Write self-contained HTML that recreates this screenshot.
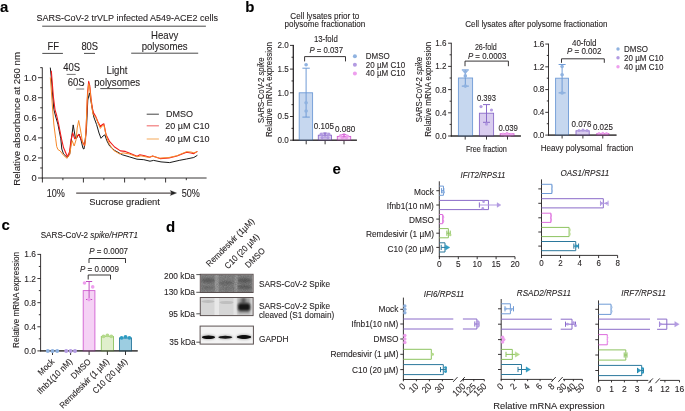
<!DOCTYPE html>
<html><head><meta charset="utf-8"><title>Figure</title>
<style>
html,body{margin:0;padding:0;background:#fff;}
body{width:685px;height:411px;overflow:hidden;}
svg{display:block;font-family:"Liberation Sans",sans-serif;will-change:transform;}
text{stroke:#231f20;stroke-width:0.1px;}
</style></head><body>
<svg width="685" height="411" viewBox="0 0 685 411" fill="#231f20">
<rect width="685" height="411" fill="#fff"/>
<text x="0" y="11.7" font-size="15" font-weight="bold" fill="#000">a</text>
<text x="36.5" y="20.6" font-size="9.74" textLength="181.6" lengthAdjust="spacingAndGlyphs">SARS-CoV-2 trVLP infected A549-ACE2 cells</text>
<line x1="42.2" y1="26.2" x2="205.9" y2="26.2" stroke="#4a4a4a" stroke-width="1"/>
<text x="47.6" y="49.7" font-size="10.06" textLength="11.48" lengthAdjust="spacingAndGlyphs">FF</text>
<line x1="42.3" y1="53.4" x2="62.9" y2="53.4" stroke="#4a4a4a" stroke-width="1"/>
<text x="81.4" y="50" font-size="10.06" textLength="16.73" lengthAdjust="spacingAndGlyphs">80S</text>
<line x1="84" y1="53.4" x2="95" y2="53.4" stroke="#4a4a4a" stroke-width="1"/>
<text x="164.7" y="38.8" font-size="10.27" text-anchor="middle" textLength="27.21" lengthAdjust="spacingAndGlyphs">Heavy</text>
<text x="164.6" y="49.5" font-size="10.27" text-anchor="middle" textLength="45.89" lengthAdjust="spacingAndGlyphs">polysomes</text>
<line x1="131.2" y1="53.2" x2="198.2" y2="53.2" stroke="#4a4a4a" stroke-width="1"/>
<text x="63.2" y="70.9" font-size="10.17" textLength="16.9" lengthAdjust="spacingAndGlyphs">40S</text>
<line x1="66.7" y1="74.4" x2="75.7" y2="74.4" stroke="#777" stroke-width="1"/>
<text x="67.7" y="86.1" font-size="10.17" textLength="16.9" lengthAdjust="spacingAndGlyphs">60S</text>
<line x1="76.2" y1="89" x2="84.2" y2="89" stroke="#777" stroke-width="1"/>
<text x="117" y="74" font-size="10.27" text-anchor="middle" textLength="20.82" lengthAdjust="spacingAndGlyphs">Light</text>
<text x="117.2" y="85.7" font-size="10.27" text-anchor="middle" textLength="45.89" lengthAdjust="spacingAndGlyphs">polysomes</text>
<line x1="100.3" y1="88.6" x2="128.6" y2="88.6" stroke="#4a4a4a" stroke-width="1"/>
<line x1="42.3" y1="67.5" x2="42.3" y2="178.45" stroke="#231f20" stroke-width="0.9"/>
<line x1="41.85" y1="178" x2="206.6" y2="178" stroke="#231f20" stroke-width="0.9"/>
<line x1="38" y1="178" x2="42.3" y2="178" stroke="#231f20" stroke-width="0.9"/>
<text x="36.6" y="181.3" font-size="9.95" text-anchor="end" textLength="5.17" lengthAdjust="spacingAndGlyphs">0</text>
<line x1="38" y1="157.94" x2="42.3" y2="157.94" stroke="#231f20" stroke-width="0.9"/>
<text x="36.6" y="161.24" font-size="9.95" text-anchor="end" textLength="12.93" lengthAdjust="spacingAndGlyphs">0.2</text>
<line x1="38" y1="137.88" x2="42.3" y2="137.88" stroke="#231f20" stroke-width="0.9"/>
<text x="36.6" y="141.18" font-size="9.95" text-anchor="end" textLength="12.93" lengthAdjust="spacingAndGlyphs">0.4</text>
<line x1="38" y1="117.82" x2="42.3" y2="117.82" stroke="#231f20" stroke-width="0.9"/>
<text x="36.6" y="121.12" font-size="9.95" text-anchor="end" textLength="12.93" lengthAdjust="spacingAndGlyphs">0.6</text>
<line x1="38" y1="97.76" x2="42.3" y2="97.76" stroke="#231f20" stroke-width="0.9"/>
<text x="36.6" y="101.06" font-size="9.95" text-anchor="end" textLength="12.93" lengthAdjust="spacingAndGlyphs">0.8</text>
<line x1="38" y1="77.7" x2="42.3" y2="77.7" stroke="#231f20" stroke-width="0.9"/>
<text x="36.6" y="81" font-size="9.95" text-anchor="end" textLength="12.93" lengthAdjust="spacingAndGlyphs">1.0</text>
<line x1="40.2" y1="167.97" x2="42.3" y2="167.97" stroke="#231f20" stroke-width="0.9"/>
<line x1="40.2" y1="147.91" x2="42.3" y2="147.91" stroke="#231f20" stroke-width="0.9"/>
<line x1="40.2" y1="127.85" x2="42.3" y2="127.85" stroke="#231f20" stroke-width="0.9"/>
<line x1="40.2" y1="107.79" x2="42.3" y2="107.79" stroke="#231f20" stroke-width="0.9"/>
<line x1="40.2" y1="87.73" x2="42.3" y2="87.73" stroke="#231f20" stroke-width="0.9"/>
<line x1="40.2" y1="67.67" x2="42.3" y2="67.67" stroke="#231f20" stroke-width="0.9"/>
<line x1="42.4" y1="178" x2="42.4" y2="182.5" stroke="#231f20" stroke-width="0.9"/>
<line x1="83.4" y1="178" x2="83.4" y2="182.5" stroke="#231f20" stroke-width="0.9"/>
<line x1="124.6" y1="178" x2="124.6" y2="182.5" stroke="#231f20" stroke-width="0.9"/>
<line x1="165.6" y1="178" x2="165.6" y2="182.5" stroke="#231f20" stroke-width="0.9"/>
<line x1="62.9" y1="178" x2="62.9" y2="180.2" stroke="#231f20" stroke-width="0.9"/>
<line x1="103.9" y1="178" x2="103.9" y2="180.2" stroke="#231f20" stroke-width="0.9"/>
<line x1="144.9" y1="178" x2="144.9" y2="180.2" stroke="#231f20" stroke-width="0.9"/>
<line x1="186.3" y1="178" x2="186.3" y2="180.2" stroke="#231f20" stroke-width="0.9"/>
<text x="19.6" y="118.9" font-size="9.63" text-anchor="middle" transform="rotate(-90 19.6 118.9)" textLength="133.8" lengthAdjust="spacingAndGlyphs">Relative absorbance at 260 nm</text>
<text x="46.7" y="196.8" font-size="10.06" textLength="18.2" lengthAdjust="spacingAndGlyphs">10%</text>
<line x1="76.2" y1="193.1" x2="172" y2="193.1" stroke="#2a2222" stroke-width="1"/>
<path d="M170.3 190.5 L176.6 193 L170.3 195.5 L171.5 193 Z" stroke="#222" stroke-width="0.3" fill="#222"/>
<text x="181.7" y="197.1" font-size="10.06" textLength="18.1" lengthAdjust="spacingAndGlyphs">50%</text>
<text x="89.2" y="205" font-size="9.63" textLength="70.7" lengthAdjust="spacingAndGlyphs">Sucrose gradient</text>
<line x1="146.7" y1="114.2" x2="158.9" y2="114.2" stroke="#444" stroke-width="1"/>
<line x1="146.7" y1="125.8" x2="158.9" y2="125.8" stroke="#f27a7a" stroke-width="1.2"/>
<line x1="146.7" y1="139" x2="158.9" y2="139" stroke="#f7b776" stroke-width="1.2"/>
<text x="166" y="117" font-size="9.63" textLength="27" lengthAdjust="spacingAndGlyphs">DMSO</text>
<text x="165.3" y="129" font-size="9.63" textLength="44.21" lengthAdjust="spacingAndGlyphs">20 µM C10</text>
<text x="165.3" y="142" font-size="9.63" textLength="44.21" lengthAdjust="spacingAndGlyphs">40 µM C10</text>
<path d="M50.3 67.6 L51.5 80 L52.6 95 L53.9 109.6 L55.5 116 L57.9 124.2 L60.8 138.8 L61.8 149 L63.5 153.9 L67.4 157.7 L69.8 153.4 L71.8 136 L73.2 124.9 L75.4 138 L76.5 138.3 L79 134 L81 140 L83 148.5 L84 149 L86.4 130 L87.8 100 L89.5 92.9 L90.8 100 L92.2 108.5 L93.8 117 L96.6 124.6 L99 133 L101 138.3 L103 136 L104.9 134.9 L106.8 140.7 L109.7 146.1 L114.6 150.4 L122.4 154.8 L129.2 156.8 L137 159.2 L143.8 159.7 L150 161.2 L153.6 160.4 L161 161.9 L169.7 162.6 L179.2 160.4 L186.5 159 L193.8 157.5 L197.4 155.3" stroke="#1b1b1b" stroke-width="1" fill="none" stroke-linejoin="round"/>
<path d="M51.3 70.7 L52.2 82 L53.4 97 L55 109.6 L56.8 116 L58.6 124.2 L61.5 138.8 L63.5 147.5 L67.4 156.8 L69.5 152 L71 140 L72.7 132.9 L74.7 138.8 L75.5 138.5 L78.7 134.4 L80.5 138 L84.4 145.6 L85.5 140 L86.5 120 L87.6 92 L88.7 81.3 L89.8 86 L91.2 100 L92.4 108 L93.4 112.5 L95.8 116.6 L98 122 L100.4 126.5 L102 124.8 L103.9 123.8 L106.1 134.8 L109.7 141.7 L114.6 147 L120.4 150.9 L125.3 151.4 L129.2 152.9 L137 156.3 L139.9 154.8 L144.8 155.8 L149.7 157.3 L152.6 156.1 L160 158.6 L169 158 L177 156 L186.5 152.2 L190.9 153 L193.8 153.6 L197.4 151.4" stroke="#f21b1b" stroke-width="1.1" fill="none" stroke-linejoin="round"/>
<path d="M50.3 77.4 L51.3 90 L52.3 105 L53 114 L53.8 124 L55.7 138.8 L56.7 146.5 L57.9 149.5 L60.1 150.9 L63.5 155.3 L66.9 158.2 L69.8 154.3 L71 146 L72.2 140.7 L74.2 146 L76.1 139.7 L77.2 128 L78.7 120.5 L80.5 130 L82.7 143.2 L84.9 145.4 L86 130 L87.2 100 L88.7 83.7 L89.8 88 L91.2 102 L92.9 114 L95.8 117.5 L98 123 L100.4 128.4 L102 126 L103.9 125 L105.6 133 L107.5 140 L109.7 144.6 L113.6 150.4 L119.5 153.9 L123.4 152.9 L129.2 153.9 L137 156.8 L140.9 155.8 L148.7 157.4 L152.6 156.1 L159.5 158.2 L169 157.5 L177 155.7 L186.5 151.7 L190.9 152 L193.8 152.8 L197.4 151.7" stroke="#f7892a" stroke-width="1" fill="none" stroke-linejoin="round"/>
<text x="245.3" y="11.7" font-size="15" font-weight="bold" fill="#000">b</text>
<text x="324.8" y="19.3" font-size="8.56" text-anchor="middle" textLength="68.9" lengthAdjust="spacingAndGlyphs">Cell lysates prior to</text>
<text x="324.9" y="27.4" font-size="8.56" text-anchor="middle" textLength="80.9" lengthAdjust="spacingAndGlyphs">polysome fractionation</text>
<text x="536.4" y="27.3" font-size="8.56" text-anchor="middle" textLength="142.2" lengthAdjust="spacingAndGlyphs">Cell lysates after polysome fractionation</text>
<line x1="293.3" y1="44.95" x2="293.3" y2="140.65" stroke="#231f20" stroke-width="0.9"/>
<line x1="292.85" y1="140.2" x2="356.9" y2="140.2" stroke="#231f20" stroke-width="0.9"/>
<line x1="290" y1="140.2" x2="293.3" y2="140.2" stroke="#231f20" stroke-width="0.9"/>
<text x="288.8" y="143.1" font-size="8.67" text-anchor="end" textLength="11.26" lengthAdjust="spacingAndGlyphs">0.0</text>
<line x1="290" y1="116.5" x2="293.3" y2="116.5" stroke="#231f20" stroke-width="0.9"/>
<text x="288.8" y="119.4" font-size="8.67" text-anchor="end" textLength="11.26" lengthAdjust="spacingAndGlyphs">0.5</text>
<line x1="290" y1="92.8" x2="293.3" y2="92.8" stroke="#231f20" stroke-width="0.9"/>
<text x="288.8" y="95.7" font-size="8.67" text-anchor="end" textLength="11.26" lengthAdjust="spacingAndGlyphs">1.0</text>
<line x1="290" y1="69.1" x2="293.3" y2="69.1" stroke="#231f20" stroke-width="0.9"/>
<text x="288.8" y="72" font-size="8.67" text-anchor="end" textLength="11.26" lengthAdjust="spacingAndGlyphs">1.5</text>
<line x1="290" y1="45.4" x2="293.3" y2="45.4" stroke="#231f20" stroke-width="0.9"/>
<text x="288.8" y="48.3" font-size="8.67" text-anchor="end" textLength="11.26" lengthAdjust="spacingAndGlyphs">2.0</text>
<line x1="291.5" y1="128.35" x2="293.3" y2="128.35" stroke="#231f20" stroke-width="0.9"/>
<line x1="291.5" y1="104.65" x2="293.3" y2="104.65" stroke="#231f20" stroke-width="0.9"/>
<line x1="291.5" y1="80.95" x2="293.3" y2="80.95" stroke="#231f20" stroke-width="0.9"/>
<line x1="291.5" y1="57.25" x2="293.3" y2="57.25" stroke="#231f20" stroke-width="0.9"/>
<text x="264.2" y="90.2" font-size="8.35" text-anchor="middle" transform="rotate(-90 264.2 90.2)" textLength="65.5" lengthAdjust="spacingAndGlyphs">SARS-CoV-2 <tspan font-style="italic">spike</tspan></text>
<text x="272.4" y="89.5" font-size="8.35" text-anchor="middle" transform="rotate(-90 272.4 89.5)" textLength="94.8" lengthAdjust="spacingAndGlyphs">Relative mRNA expression</text>
<line x1="306.2" y1="140.2" x2="306.2" y2="144.3" stroke="#231f20" stroke-width="0.9"/>
<line x1="325.1" y1="140.2" x2="325.1" y2="144.3" stroke="#231f20" stroke-width="0.9"/>
<line x1="344" y1="140.2" x2="344" y2="144.3" stroke="#231f20" stroke-width="0.9"/>
<rect x="299.2" y="92.8" width="13.4" height="47.4" fill="#c6d7ef" stroke="#6f9bd6" stroke-width="0.9"/>
<rect x="318.3" y="135.22" width="13.2" height="4.98" fill="#d9cdef" stroke="#8a6bc9" stroke-width="0.9"/>
<rect x="337.3" y="136.41" width="13.4" height="3.79" fill="#f5d2f5" stroke="#d15fd1" stroke-width="0.9"/>
<line x1="306.1" y1="68.2" x2="306.1" y2="117.1" stroke="#6f9bd6" stroke-width="1"/>
<line x1="302.4" y1="68.2" x2="309.8" y2="68.2" stroke="#6f9bd6" stroke-width="1"/>
<line x1="302.4" y1="117.1" x2="309.8" y2="117.1" stroke="#6f9bd6" stroke-width="1"/>
<circle cx="306.1" cy="64.7" r="1.8" fill="#8fb2e0"/>
<circle cx="306.1" cy="102.8" r="1.8" fill="#8fb2e0"/>
<circle cx="306.1" cy="111" r="1.8" fill="#8fb2e0"/>
<circle cx="321.2" cy="134.2" r="1.7" fill="#b39be2"/>
<circle cx="325" cy="134" r="1.7" fill="#b39be2"/>
<circle cx="328.8" cy="134.2" r="1.7" fill="#b39be2"/>
<circle cx="322.2" cy="137.6" r="1.7" fill="#b39be2"/>
<circle cx="327.8" cy="137.6" r="1.7" fill="#b39be2"/>
<line x1="325" y1="133" x2="325" y2="138.5" stroke="#8a6bc9" stroke-width="0.8"/>
<line x1="322.5" y1="133" x2="327.5" y2="133" stroke="#8a6bc9" stroke-width="0.8"/>
<circle cx="340.5" cy="135.6" r="1.6" fill="#ee9fee"/>
<circle cx="344" cy="134.6" r="1.6" fill="#ee9fee"/>
<circle cx="347.5" cy="136" r="1.6" fill="#ee9fee"/>
<circle cx="342" cy="137.8" r="1.6" fill="#ee9fee"/>
<circle cx="346.5" cy="137.8" r="1.6" fill="#ee9fee"/>
<line x1="344" y1="134.5" x2="344" y2="138.5" stroke="#d15fd1" stroke-width="0.8"/>
<line x1="341.5" y1="134.5" x2="346.5" y2="134.5" stroke="#d15fd1" stroke-width="0.8"/>
<line x1="292.85" y1="140.2" x2="356.9" y2="140.2" stroke="#231f20" stroke-width="0.9"/>
<line x1="293.3" y1="44.95" x2="293.3" y2="140.65" stroke="#231f20" stroke-width="0.9"/>
<text x="324" y="129.4" font-size="8.67" text-anchor="middle" textLength="20.27" lengthAdjust="spacingAndGlyphs">0.105</text>
<text x="345.1" y="131.6" font-size="8.67" text-anchor="middle" textLength="20.27" lengthAdjust="spacingAndGlyphs">0.080</text>
<text x="325.8" y="41.7" font-size="8.35" text-anchor="middle" textLength="23.85" lengthAdjust="spacingAndGlyphs">13-fold</text>
<text x="326.2" y="53.1" font-size="8.35" text-anchor="middle" textLength="33.61" lengthAdjust="spacingAndGlyphs"><tspan font-style="italic">P</tspan> = 0.037</text>
<path d="M304.6 61.4 L304.6 56.6 L345.5 56.6 L345.5 61.4" stroke="#231f20" stroke-width="0.9" fill="none"/>
<circle cx="354.9" cy="56.2" r="2" fill="#8fb2e0"/>
<text x="365.8" y="59.1" font-size="8.56" textLength="24" lengthAdjust="spacingAndGlyphs">DMSO</text>
<circle cx="354.9" cy="64.8" r="2" fill="#b39be2"/>
<text x="365.8" y="67.7" font-size="8.56" textLength="39.29" lengthAdjust="spacingAndGlyphs">20 µM C10</text>
<circle cx="354.9" cy="73.4" r="2" fill="#ee9fee"/>
<text x="365.8" y="76.3" font-size="8.56" textLength="39.29" lengthAdjust="spacingAndGlyphs">40 µM C10</text>
<line x1="451.3" y1="42.75" x2="451.3" y2="136.45" stroke="#231f20" stroke-width="0.9"/>
<line x1="450.85" y1="136" x2="520.9" y2="136" stroke="#231f20" stroke-width="0.9"/>
<line x1="448.1" y1="136" x2="451.3" y2="136" stroke="#231f20" stroke-width="0.9"/>
<text x="446.5" y="138.9" font-size="8.67" text-anchor="end" textLength="11.26" lengthAdjust="spacingAndGlyphs">0.0</text>
<line x1="448.1" y1="112.8" x2="451.3" y2="112.8" stroke="#231f20" stroke-width="0.9"/>
<text x="446.5" y="115.7" font-size="8.67" text-anchor="end" textLength="11.26" lengthAdjust="spacingAndGlyphs">0.4</text>
<line x1="448.1" y1="89.6" x2="451.3" y2="89.6" stroke="#231f20" stroke-width="0.9"/>
<text x="446.5" y="92.5" font-size="8.67" text-anchor="end" textLength="11.26" lengthAdjust="spacingAndGlyphs">0.8</text>
<line x1="448.1" y1="66.4" x2="451.3" y2="66.4" stroke="#231f20" stroke-width="0.9"/>
<text x="446.5" y="69.3" font-size="8.67" text-anchor="end" textLength="11.26" lengthAdjust="spacingAndGlyphs">1.2</text>
<line x1="448.1" y1="43.2" x2="451.3" y2="43.2" stroke="#231f20" stroke-width="0.9"/>
<text x="446.5" y="46.1" font-size="8.67" text-anchor="end" textLength="11.26" lengthAdjust="spacingAndGlyphs">1.6</text>
<line x1="449.6" y1="124.4" x2="451.3" y2="124.4" stroke="#231f20" stroke-width="0.9"/>
<line x1="449.6" y1="101.2" x2="451.3" y2="101.2" stroke="#231f20" stroke-width="0.9"/>
<line x1="449.6" y1="78" x2="451.3" y2="78" stroke="#231f20" stroke-width="0.9"/>
<line x1="449.6" y1="54.8" x2="451.3" y2="54.8" stroke="#231f20" stroke-width="0.9"/>
<text x="422.4" y="89.6" font-size="8.35" text-anchor="middle" transform="rotate(-90 422.4 89.6)" textLength="65.5" lengthAdjust="spacingAndGlyphs">SARS-CoV-2 <tspan font-style="italic">spike</tspan></text>
<text x="431" y="89.3" font-size="8.35" text-anchor="middle" transform="rotate(-90 431 89.3)" textLength="94.8" lengthAdjust="spacingAndGlyphs">Relative mRNA expression</text>
<line x1="465.2" y1="136" x2="465.2" y2="139.6" stroke="#231f20" stroke-width="0.9"/>
<line x1="486.5" y1="136" x2="486.5" y2="139.6" stroke="#231f20" stroke-width="0.9"/>
<line x1="507.5" y1="136" x2="507.5" y2="139.6" stroke="#231f20" stroke-width="0.9"/>
<rect x="458.4" y="78" width="14.2" height="58" fill="#c6d7ef" stroke="#6f9bd6" stroke-width="0.9"/>
<rect x="479.4" y="113.21" width="14.2" height="22.79" fill="#d9cdef" stroke="#8a6bc9" stroke-width="0.9"/>
<rect x="500.2" y="133.74" width="13.8" height="2.26" fill="#f5d2f5" stroke="#d15fd1" stroke-width="0.9"/>
<line x1="465.3" y1="69.9" x2="465.3" y2="86.1" stroke="#6f9bd6" stroke-width="1"/>
<line x1="461.8" y1="69.9" x2="468.8" y2="69.9" stroke="#6f9bd6" stroke-width="1"/>
<line x1="461.8" y1="86.1" x2="468.8" y2="86.1" stroke="#6f9bd6" stroke-width="1"/>
<path d="M462.3 70.4 L468.3 70.4 L465.3 74 Z" stroke="#8fb2e0" stroke-width="0.4" fill="#8fb2e0"/>
<circle cx="465.3" cy="75.9" r="1.8" fill="#8fb2e0"/>
<circle cx="465.3" cy="86.1" r="1.8" fill="#8fb2e0"/>
<line x1="486.5" y1="104.6" x2="486.5" y2="122.3" stroke="#8a6bc9" stroke-width="1"/>
<line x1="483" y1="104.6" x2="490" y2="104.6" stroke="#8a6bc9" stroke-width="1"/>
<line x1="483" y1="122.3" x2="490" y2="122.3" stroke="#8a6bc9" stroke-width="1"/>
<circle cx="481" cy="106.6" r="1.6" fill="#b39be2"/>
<circle cx="491.5" cy="110" r="1.6" fill="#b39be2"/>
<circle cx="486.5" cy="124.1" r="1.6" fill="#b39be2"/>
<circle cx="503" cy="134" r="1.5" fill="#ee9fee"/>
<circle cx="507" cy="133.2" r="1.5" fill="#ee9fee"/>
<circle cx="511" cy="134.2" r="1.5" fill="#ee9fee"/>
<circle cx="505" cy="135.4" r="1.5" fill="#ee9fee"/>
<circle cx="509.5" cy="135.4" r="1.5" fill="#ee9fee"/>
<line x1="450.85" y1="136" x2="520.9" y2="136" stroke="#231f20" stroke-width="0.9"/>
<text x="486.5" y="101.1" font-size="8.13" text-anchor="middle" textLength="19.02" lengthAdjust="spacingAndGlyphs">0.393</text>
<text x="508.2" y="131" font-size="8.35" text-anchor="middle" textLength="19.52" lengthAdjust="spacingAndGlyphs">0.039</text>
<text x="485.8" y="49.5" font-size="8.56" text-anchor="middle" textLength="21.8" lengthAdjust="spacingAndGlyphs">26-fold</text>
<text x="487.1" y="58.8" font-size="8.45" text-anchor="middle" textLength="38.44" lengthAdjust="spacingAndGlyphs"><tspan font-style="italic">P</tspan> = 0.0003</text>
<path d="M465 66.2 L465 61.1 L508.4 61.1 L508.4 66.2" stroke="#231f20" stroke-width="0.9" fill="none"/>
<text x="486.4" y="151.8" font-size="8.13" text-anchor="middle" textLength="41" lengthAdjust="spacingAndGlyphs">Free fraction</text>
<line x1="548.5" y1="43.61" x2="548.5" y2="135.55" stroke="#231f20" stroke-width="0.9"/>
<line x1="548.05" y1="135.1" x2="616.5" y2="135.1" stroke="#231f20" stroke-width="0.9"/>
<line x1="545.3" y1="135.1" x2="548.5" y2="135.1" stroke="#231f20" stroke-width="0.9"/>
<text x="544.4" y="138" font-size="8.67" text-anchor="end" textLength="11.26" lengthAdjust="spacingAndGlyphs">0.0</text>
<line x1="545.3" y1="112.34" x2="548.5" y2="112.34" stroke="#231f20" stroke-width="0.9"/>
<text x="544.4" y="115.24" font-size="8.67" text-anchor="end" textLength="11.26" lengthAdjust="spacingAndGlyphs">0.4</text>
<line x1="545.3" y1="89.58" x2="548.5" y2="89.58" stroke="#231f20" stroke-width="0.9"/>
<text x="544.4" y="92.48" font-size="8.67" text-anchor="end" textLength="11.26" lengthAdjust="spacingAndGlyphs">0.8</text>
<line x1="545.3" y1="66.82" x2="548.5" y2="66.82" stroke="#231f20" stroke-width="0.9"/>
<text x="544.4" y="69.72" font-size="8.67" text-anchor="end" textLength="11.26" lengthAdjust="spacingAndGlyphs">1.2</text>
<line x1="545.3" y1="44.06" x2="548.5" y2="44.06" stroke="#231f20" stroke-width="0.9"/>
<text x="544.4" y="46.96" font-size="8.67" text-anchor="end" textLength="11.26" lengthAdjust="spacingAndGlyphs">1.6</text>
<line x1="546.8" y1="123.72" x2="548.5" y2="123.72" stroke="#231f20" stroke-width="0.9"/>
<line x1="546.8" y1="100.96" x2="548.5" y2="100.96" stroke="#231f20" stroke-width="0.9"/>
<line x1="546.8" y1="78.2" x2="548.5" y2="78.2" stroke="#231f20" stroke-width="0.9"/>
<line x1="546.8" y1="55.44" x2="548.5" y2="55.44" stroke="#231f20" stroke-width="0.9"/>
<line x1="562.1" y1="135.1" x2="562.1" y2="138.5" stroke="#231f20" stroke-width="0.9"/>
<line x1="582.9" y1="135.1" x2="582.9" y2="138.5" stroke="#231f20" stroke-width="0.9"/>
<line x1="602.8" y1="135.1" x2="602.8" y2="138.5" stroke="#231f20" stroke-width="0.9"/>
<rect x="555.6" y="78.2" width="12.9" height="56.9" fill="#c6d7ef" stroke="#6f9bd6" stroke-width="0.9"/>
<rect x="576" y="130.78" width="13.2" height="4.32" fill="#d9cdef" stroke="#8a6bc9" stroke-width="0.9"/>
<rect x="596.7" y="133.68" width="12.2" height="1.42" fill="#f5d2f5" stroke="#d15fd1" stroke-width="0.9"/>
<line x1="562.1" y1="64.5" x2="562.1" y2="92.9" stroke="#6f9bd6" stroke-width="1"/>
<line x1="558.6" y1="64.5" x2="565.6" y2="64.5" stroke="#6f9bd6" stroke-width="1"/>
<line x1="558.6" y1="92.9" x2="565.6" y2="92.9" stroke="#6f9bd6" stroke-width="1"/>
<circle cx="562.1" cy="66.5" r="1.8" fill="#8fb2e0"/>
<circle cx="562.1" cy="74.7" r="1.8" fill="#8fb2e0"/>
<circle cx="562.1" cy="92.9" r="1.8" fill="#8fb2e0"/>
<circle cx="579" cy="130.6" r="1.5" fill="#b39be2"/>
<circle cx="583" cy="130.1" r="1.5" fill="#b39be2"/>
<circle cx="587" cy="130.6" r="1.5" fill="#b39be2"/>
<circle cx="599" cy="133.6" r="1.5" fill="#ee9fee"/>
<circle cx="602.8" cy="133.3" r="1.5" fill="#ee9fee"/>
<circle cx="606.5" cy="133.6" r="1.5" fill="#ee9fee"/>
<line x1="548.05" y1="135.1" x2="616.5" y2="135.1" stroke="#231f20" stroke-width="0.9"/>
<text x="581.5" y="126.6" font-size="8.56" text-anchor="middle" textLength="20.02" lengthAdjust="spacingAndGlyphs">0.076</text>
<text x="602.9" y="130.4" font-size="8.56" text-anchor="middle" textLength="20.02" lengthAdjust="spacingAndGlyphs">0.025</text>
<text x="584.2" y="46.1" font-size="8.56" text-anchor="middle" textLength="24.46" lengthAdjust="spacingAndGlyphs">40-fold</text>
<text x="584.2" y="53.9" font-size="8.56" text-anchor="middle" textLength="34.47" lengthAdjust="spacingAndGlyphs"><tspan font-style="italic">P</tspan> = 0.002</text>
<path d="M561.5 62.8 L561.5 58.8 L604.3 58.8 L604.3 62.8" stroke="#231f20" stroke-width="0.9" fill="none"/>
<text x="587" y="150.7" font-size="8.67" text-anchor="middle" textLength="92.6" lengthAdjust="spacingAndGlyphs">Heavy polysomal  fraction</text>
<circle cx="618" cy="49" r="1.7" fill="#8fb2e0"/>
<text x="624.1" y="51.9" font-size="8.56" textLength="24" lengthAdjust="spacingAndGlyphs">DMSO</text>
<circle cx="618" cy="57.8" r="1.7" fill="#b39be2"/>
<text x="624.1" y="60.7" font-size="8.56" textLength="39.29" lengthAdjust="spacingAndGlyphs">20 µM C10</text>
<circle cx="618" cy="66.8" r="1.7" fill="#ee9fee"/>
<text x="624.1" y="69.7" font-size="8.56" textLength="39.29" lengthAdjust="spacingAndGlyphs">40 µM C10</text>
<text x="1.4" y="229.9" font-size="15" font-weight="bold" fill="#000">c</text>
<text x="40.7" y="237.6" font-size="8.56" textLength="97.4" lengthAdjust="spacingAndGlyphs">SARS-CoV-2 <tspan font-style="italic">spike/HPRT1</tspan></text>
<line x1="40.6" y1="253.95" x2="40.6" y2="351.35" stroke="#231f20" stroke-width="0.9"/>
<line x1="40.15" y1="350.9" x2="137.7" y2="350.9" stroke="#231f20" stroke-width="0.9"/>
<line x1="37.4" y1="350.9" x2="40.6" y2="350.9" stroke="#231f20" stroke-width="0.9"/>
<text x="36" y="353.9" font-size="8.99" text-anchor="end" textLength="11.68" lengthAdjust="spacingAndGlyphs">0.0</text>
<line x1="37.4" y1="326.78" x2="40.6" y2="326.78" stroke="#231f20" stroke-width="0.9"/>
<text x="36" y="329.78" font-size="8.99" text-anchor="end" textLength="11.68" lengthAdjust="spacingAndGlyphs">0.4</text>
<line x1="37.4" y1="302.66" x2="40.6" y2="302.66" stroke="#231f20" stroke-width="0.9"/>
<text x="36" y="305.66" font-size="8.99" text-anchor="end" textLength="11.68" lengthAdjust="spacingAndGlyphs">0.8</text>
<line x1="37.4" y1="278.54" x2="40.6" y2="278.54" stroke="#231f20" stroke-width="0.9"/>
<text x="36" y="281.54" font-size="8.99" text-anchor="end" textLength="11.68" lengthAdjust="spacingAndGlyphs">1.2</text>
<line x1="37.4" y1="254.42" x2="40.6" y2="254.42" stroke="#231f20" stroke-width="0.9"/>
<text x="36" y="257.42" font-size="8.99" text-anchor="end" textLength="11.68" lengthAdjust="spacingAndGlyphs">1.6</text>
<line x1="38.8" y1="338.84" x2="40.6" y2="338.84" stroke="#231f20" stroke-width="0.9"/>
<line x1="38.8" y1="314.72" x2="40.6" y2="314.72" stroke="#231f20" stroke-width="0.9"/>
<line x1="38.8" y1="290.6" x2="40.6" y2="290.6" stroke="#231f20" stroke-width="0.9"/>
<line x1="38.8" y1="266.48" x2="40.6" y2="266.48" stroke="#231f20" stroke-width="0.9"/>
<text x="19.3" y="299.9" font-size="8.35" text-anchor="middle" transform="rotate(-90 19.3 299.9)" textLength="96" lengthAdjust="spacingAndGlyphs">Relative mRNA expression</text>
<line x1="52.5" y1="350.9" x2="52.5" y2="355" stroke="#231f20" stroke-width="0.9"/>
<line x1="70.6" y1="350.9" x2="70.6" y2="355" stroke="#231f20" stroke-width="0.9"/>
<line x1="89.1" y1="350.9" x2="89.1" y2="355" stroke="#231f20" stroke-width="0.9"/>
<line x1="107.4" y1="350.9" x2="107.4" y2="355" stroke="#231f20" stroke-width="0.9"/>
<line x1="125.5" y1="350.9" x2="125.5" y2="355" stroke="#231f20" stroke-width="0.9"/>
<rect x="83.2" y="290.6" width="11.7" height="60.3" fill="#f5d2f5" stroke="#d15fd1" stroke-width="0.9"/>
<rect x="101.3" y="336.43" width="12.2" height="14.47" fill="#e0efcc" stroke="#8dc35f" stroke-width="0.9"/>
<rect x="119.5" y="337.94" width="12" height="12.96" fill="#9ccde1" stroke="#2b789c" stroke-width="0.9"/>
<line x1="40.15" y1="350.9" x2="137.7" y2="350.9" stroke="#231f20" stroke-width="0.9"/>
<line x1="89.1" y1="281.5" x2="89.1" y2="299.5" stroke="#c050c0" stroke-width="1"/>
<line x1="86" y1="281.5" x2="92.2" y2="281.5" stroke="#c050c0" stroke-width="1"/>
<line x1="86" y1="299.5" x2="92.2" y2="299.5" stroke="#c050c0" stroke-width="1"/>
<circle cx="84.5" cy="283" r="1.8" fill="#ee9fee"/>
<circle cx="92.7" cy="286.9" r="1.8" fill="#ee9fee"/>
<circle cx="89" cy="299.6" r="1.8" fill="#ee9fee"/>
<circle cx="47.8" cy="351" r="2" fill="#8fb2e0"/>
<circle cx="52.5" cy="351" r="2" fill="#8fb2e0"/>
<circle cx="57.2" cy="351" r="2" fill="#8fb2e0"/>
<circle cx="66.2" cy="351" r="2" fill="#b39be2"/>
<circle cx="70.6" cy="351" r="2" fill="#b39be2"/>
<circle cx="75" cy="351" r="2" fill="#b39be2"/>
<circle cx="103.5" cy="336.3" r="1.9" fill="#b5da8c"/>
<circle cx="107.4" cy="335.3" r="1.9" fill="#b5da8c"/>
<circle cx="111.3" cy="336.3" r="1.9" fill="#b5da8c"/>
<circle cx="121.6" cy="337.8" r="1.9" fill="#2f9cc2"/>
<circle cx="125.5" cy="336.8" r="1.9" fill="#2f9cc2"/>
<circle cx="129.4" cy="337.8" r="1.9" fill="#2f9cc2"/>
<text x="108.6" y="253.8" font-size="8.56" text-anchor="middle" textLength="38.92" lengthAdjust="spacingAndGlyphs"><tspan font-style="italic">P</tspan> = 0.0007</text>
<path d="M89 263 L89 258.5 L125.5 258.5 L125.5 263" stroke="#231f20" stroke-width="0.9" fill="none"/>
<text x="99.5" y="272.1" font-size="8.56" text-anchor="middle" textLength="38.92" lengthAdjust="spacingAndGlyphs"><tspan font-style="italic">P</tspan> = 0.0009</text>
<path d="M88.2 279.5 L88.2 275 L110.5 275 L110.5 279.5" stroke="#231f20" stroke-width="0.9" fill="none"/>
<text x="54.9" y="362.2" font-size="8.67" text-anchor="end" transform="rotate(-45 54.9 362.2)" textLength="19.35" lengthAdjust="spacingAndGlyphs">Mock</text>
<text x="73" y="362.2" font-size="8.67" text-anchor="end" transform="rotate(-45 73 362.2)" textLength="45.92" lengthAdjust="spacingAndGlyphs">Ifnb1(10 nM)</text>
<text x="91.5" y="362.2" font-size="8.67" text-anchor="end" transform="rotate(-45 91.5 362.2)" textLength="24.3" lengthAdjust="spacingAndGlyphs">DMSO</text>
<text x="109.8" y="362.2" font-size="8.67" text-anchor="end" transform="rotate(-45 109.8 362.2)" textLength="66.33" lengthAdjust="spacingAndGlyphs">Remdesivir (1 µM)</text>
<text x="127.9" y="362.2" font-size="8.67" text-anchor="end" transform="rotate(-45 127.9 362.2)" textLength="45.18" lengthAdjust="spacingAndGlyphs">C10 (20 µM)</text>
<text x="166" y="232.4" font-size="15" font-weight="bold" fill="#000">d</text>
<text x="209.6" y="267.2" font-size="8.67" transform="rotate(-45 209.6 267.2)" textLength="64.07" lengthAdjust="spacingAndGlyphs">Remdesivir (1µM)</text>
<text x="228" y="269.4" font-size="8.67" transform="rotate(-45 228 269.4)" textLength="45.18" lengthAdjust="spacingAndGlyphs">C10 (20 µM)</text>
<text x="248.6" y="268.6" font-size="8.67" transform="rotate(-45 248.6 268.6)" textLength="24.3" lengthAdjust="spacingAndGlyphs">DMSO</text>
<defs>
<filter id="blur1" x="-20%" y="-50%" width="140%" height="200%"><feGaussianBlur stdDeviation="1.1"/></filter>
<filter id="blur2" x="-20%" y="-50%" width="140%" height="200%"><feGaussianBlur stdDeviation="0.7"/></filter>
<filter id="noise" x="0" y="0" width="100%" height="100%"><feTurbulence type="fractalNoise" baseFrequency="0.9" numOctaves="2" seed="3"/><feColorMatrix type="matrix" values="0 0 0 0 0  0 0 0 0 0  0 0 0 0 0  0 0 0 0.28 0"/><feComposite in2="SourceGraphic" operator="in"/></filter>
<clipPath id="cb1"><rect x="200.8" y="274.8" width="51.8" height="17.2"/></clipPath>
<clipPath id="cb2"><rect x="200.8" y="298" width="51.8" height="17.1"/></clipPath>
<clipPath id="cb3"><rect x="200.6" y="326.6" width="52.3" height="17"/></clipPath>
</defs>
<g clip-path="url(#cb1)">
<rect x="200.3" y="274.3" width="52.8" height="18.2" fill="#9a9a9a" stroke="none" stroke-width="0"/>
<rect x="201" y="275" width="13.5" height="17" fill="#8f8f8f" stroke="none" stroke-width="0"/>
<rect x="219" y="275" width="15.5" height="17" fill="#8f8f8f" stroke="none" stroke-width="0"/>
<rect x="237.5" y="275" width="14.5" height="17" fill="#8f8f8f" stroke="none" stroke-width="0"/>
<ellipse cx="208" cy="280.5" rx="7" ry="2.4" fill="#6c6c6c" filter="url(#blur1)"/>
<ellipse cx="208" cy="287.5" rx="6.5" ry="1.8" fill="#7a7a7a" filter="url(#blur1)"/>
<ellipse cx="226.5" cy="283" rx="7" ry="2.2" fill="#747474" filter="url(#blur1)"/>
<ellipse cx="226.5" cy="288.5" rx="6.5" ry="1.6" fill="#838383" filter="url(#blur1)"/>
<ellipse cx="244.5" cy="280.5" rx="7" ry="2.6" fill="#666" filter="url(#blur1)"/>
<ellipse cx="244.5" cy="287" rx="7" ry="2.4" fill="#6a6a6a" filter="url(#blur1)"/>
<rect x="215" y="274.8" width="3.5" height="18" fill="#a8a8a8" stroke="none" stroke-width="0"/>
<rect x="234.6" y="274.8" width="2.8" height="18" fill="#a2a2a2" stroke="none" stroke-width="0"/>
<rect x="200.3" y="274.3" width="52.8" height="18.2" fill="#000" filter="url(#noise)"/>
</g>
<rect x="200.3" y="274.3" width="52.8" height="18.2" fill="none" stroke="#5a5050" stroke-width="1"/>
<g clip-path="url(#cb2)">
<rect x="200.3" y="297.5" width="52.8" height="18.1" fill="#d6d6d6" stroke="none" stroke-width="0"/>
<rect x="214.5" y="297.5" width="4.5" height="18.1" fill="#e8e8e8" stroke="none" stroke-width="0"/>
<rect x="233.5" y="297.5" width="3.5" height="18.1" fill="#e4e4e4" stroke="none" stroke-width="0"/>
<ellipse cx="208" cy="301.5" rx="6.5" ry="1.4" fill="#bdbdbd" filter="url(#blur2)"/>
<ellipse cx="226.5" cy="302.5" rx="7" ry="1.6" fill="#bfbfbf" filter="url(#blur2)"/>
<rect x="238" y="298" width="12" height="16" fill="#a0a0a0" filter="url(#blur1)"/>
<rect x="241.5" y="298" width="4" height="5" fill="#5a5a5a" filter="url(#blur1)"/>
<rect x="238" y="303.2" width="12.2" height="7.6" rx="2.5" fill="#121212" filter="url(#blur1)"/>
</g>
<rect x="200.3" y="297.5" width="52.8" height="18.1" fill="none" stroke="#5a5050" stroke-width="1"/>
<g clip-path="url(#cb3)">
<rect x="200.1" y="326.1" width="53.3" height="18" fill="#f4f4f4" stroke="none" stroke-width="0"/>
<ellipse cx="208.5" cy="337.2" rx="7.5" ry="2.6" fill="#bbb" filter="url(#blur1)"/>
<ellipse cx="225.3" cy="337.2" rx="7.8" ry="2.4" fill="#c4c4c4" filter="url(#blur1)"/>
<ellipse cx="244" cy="337" rx="8" ry="2.8" fill="#b5b5b5" filter="url(#blur1)"/>
<ellipse cx="208.5" cy="337.2" rx="6.5" ry="1.7" fill="#080808" filter="url(#blur2)"/>
<ellipse cx="225.3" cy="337.2" rx="7" ry="1.45" fill="#151515" filter="url(#blur2)"/>
<ellipse cx="244" cy="337" rx="7.2" ry="1.9" fill="#080808" filter="url(#blur2)"/>
</g>
<rect x="200.1" y="326.1" width="53.3" height="18" fill="none" stroke="#5a5050" stroke-width="1"/>
<line x1="196.3" y1="274.6" x2="200.3" y2="274.6" stroke="#444" stroke-width="0.9"/>
<line x1="196.3" y1="292.3" x2="200.3" y2="292.3" stroke="#444" stroke-width="0.9"/>
<line x1="196.3" y1="313.8" x2="200.3" y2="313.8" stroke="#444" stroke-width="0.9"/>
<line x1="196.3" y1="342.2" x2="200.3" y2="342.2" stroke="#444" stroke-width="0.9"/>
<text x="195" y="279.4" font-size="8.88" text-anchor="end" textLength="30.91" lengthAdjust="spacingAndGlyphs">200 kDa</text>
<text x="195" y="294.5" font-size="8.88" text-anchor="end" textLength="30.91" lengthAdjust="spacingAndGlyphs">130 kDa</text>
<text x="195" y="317.4" font-size="8.88" text-anchor="end" textLength="26.3" lengthAdjust="spacingAndGlyphs">95 kDa</text>
<text x="195.6" y="345.4" font-size="8.88" text-anchor="end" textLength="26.3" lengthAdjust="spacingAndGlyphs">35 kDa</text>
<text x="259" y="286.8" font-size="8.88" textLength="71" lengthAdjust="spacingAndGlyphs">SARS-CoV-2 Spike</text>
<text x="259" y="309.3" font-size="8.88" textLength="71" lengthAdjust="spacingAndGlyphs">SARS-CoV-2 Spike</text>
<text x="259" y="318.3" font-size="8.88" textLength="75.2" lengthAdjust="spacingAndGlyphs">cleaved (S1 domain)</text>
<text x="259" y="342" font-size="8.88" textLength="29.52" lengthAdjust="spacingAndGlyphs">GAPDH</text>
<text x="332.4" y="174" font-size="15" font-weight="bold" fill="#000">e</text>
<text x="483" y="177.6" font-size="8.56" text-anchor="middle" font-style="italic" textLength="45" lengthAdjust="spacingAndGlyphs">IFIT2/RPS11</text>
<line x1="439.3" y1="181.3" x2="439.3" y2="257.1" stroke="#231f20" stroke-width="0.9"/>
<line x1="438.85" y1="256.7" x2="515" y2="256.7" stroke="#231f20" stroke-width="0.9"/>
<line x1="439.4" y1="256.7" x2="439.4" y2="259.2" stroke="#231f20" stroke-width="0.9"/>
<text x="439.4" y="266.6" font-size="8.88" text-anchor="middle" textLength="4.62" lengthAdjust="spacingAndGlyphs">0</text>
<line x1="458.3" y1="256.7" x2="458.3" y2="259.2" stroke="#231f20" stroke-width="0.9"/>
<text x="458.3" y="266.6" font-size="8.88" text-anchor="middle" textLength="4.62" lengthAdjust="spacingAndGlyphs">5</text>
<line x1="477.2" y1="256.7" x2="477.2" y2="259.2" stroke="#231f20" stroke-width="0.9"/>
<text x="477.2" y="266.6" font-size="8.88" text-anchor="middle" textLength="9.23" lengthAdjust="spacingAndGlyphs">10</text>
<line x1="496.1" y1="256.7" x2="496.1" y2="259.2" stroke="#231f20" stroke-width="0.9"/>
<text x="496.1" y="266.6" font-size="8.88" text-anchor="middle" textLength="9.23" lengthAdjust="spacingAndGlyphs">15</text>
<line x1="515" y1="256.7" x2="515" y2="259.2" stroke="#231f20" stroke-width="0.9"/>
<text x="515" y="266.6" font-size="8.88" text-anchor="middle" textLength="9.23" lengthAdjust="spacingAndGlyphs">20</text>
<line x1="436.3" y1="190.7" x2="439.3" y2="190.7" stroke="#231f20" stroke-width="0.9"/>
<text x="433.9" y="194.9" font-size="8.88" text-anchor="end" textLength="19.83" lengthAdjust="spacingAndGlyphs">Mock</text>
<line x1="436.3" y1="205" x2="439.3" y2="205" stroke="#231f20" stroke-width="0.9"/>
<text x="433.9" y="209.2" font-size="8.88" text-anchor="end" textLength="47.06" lengthAdjust="spacingAndGlyphs">Ifnb1(10 nM)</text>
<line x1="436.3" y1="219.1" x2="439.3" y2="219.1" stroke="#231f20" stroke-width="0.9"/>
<text x="433.9" y="223.3" font-size="8.88" text-anchor="end" textLength="24.9" lengthAdjust="spacingAndGlyphs">DMSO</text>
<line x1="436.3" y1="233.2" x2="439.3" y2="233.2" stroke="#231f20" stroke-width="0.9"/>
<text x="433.9" y="237.4" font-size="8.88" text-anchor="end" textLength="67.96" lengthAdjust="spacingAndGlyphs">Remdesivir (1 µM)</text>
<line x1="436.3" y1="247.4" x2="439.3" y2="247.4" stroke="#231f20" stroke-width="0.9"/>
<text x="433.9" y="251.6" font-size="8.88" text-anchor="end" textLength="46.3" lengthAdjust="spacingAndGlyphs">C10 (20 µM)</text>
<path d="M439.3 186.1 L443.46 186.1 L443.46 195.3 L439.3 195.3" stroke="#6f9bd6" stroke-width="1" fill="none"/>
<path d="M439.3 200.4 L488.44 200.4 L488.44 209.6 L439.3 209.6" stroke="#8a6bc9" stroke-width="1" fill="none"/>
<path d="M439.3 214.5 L442.7 214.5 L442.7 223.7 L439.3 223.7" stroke="#dd6ddd" stroke-width="1" fill="none"/>
<path d="M439.3 228.6 L448.37 228.6 L448.37 237.8 L439.3 237.8" stroke="#8dc35f" stroke-width="1" fill="none"/>
<path d="M439.3 242.8 L444.97 242.8 L444.97 252 L439.3 252" stroke="#2b789c" stroke-width="1" fill="none"/>
<line x1="441.57" y1="190.7" x2="443.84" y2="190.7" stroke="#6f9bd6" stroke-width="1"/>
<line x1="441.57" y1="188.1" x2="441.57" y2="193.3" stroke="#6f9bd6" stroke-width="1"/>
<line x1="443.84" y1="188.1" x2="443.84" y2="193.3" stroke="#6f9bd6" stroke-width="1"/>
<circle cx="443.46" cy="192.2" r="1.3" fill="#8fb2e0"/>
<line x1="479.37" y1="205" x2="497.5" y2="205" stroke="#b39be2" stroke-width="1"/>
<line x1="479.37" y1="202.4" x2="479.37" y2="207.6" stroke="#8a6bc9" stroke-width="1"/>
<path d="M497 202.6 L501 205 L497 207.4 Z" stroke="#b39be2" stroke-width="0.3" fill="#b39be2"/>
<circle cx="483.6" cy="201.8" r="1.3" fill="#b39be2"/>
<circle cx="482.8" cy="208.2" r="1.3" fill="#b39be2"/>
<path d="M442.89 215.1 q2 2 0 4 q2 2 0 4" stroke="#e07ae0" stroke-width="0.9" fill="none"/>
<line x1="446.86" y1="233.2" x2="450.26" y2="233.2" stroke="#8dc35f" stroke-width="1"/>
<line x1="446.86" y1="230.6" x2="446.86" y2="235.8" stroke="#8dc35f" stroke-width="1"/>
<line x1="450.26" y1="230.6" x2="450.26" y2="235.8" stroke="#8dc35f" stroke-width="1"/>
<circle cx="450.26" cy="235" r="1.2" fill="#b5da8c"/>
<line x1="441.19" y1="247.4" x2="447.99" y2="247.4" stroke="#2b789c" stroke-width="1"/>
<line x1="441.19" y1="244.8" x2="441.19" y2="250" stroke="#2b789c" stroke-width="1"/>
<path d="M445.32 244.64 L449.92 247.4 L445.32 250.16 Z" stroke="#2f9cc2" stroke-width="0.3" fill="#2f9cc2"/>
<text x="584.8" y="176" font-size="8.56" text-anchor="middle" font-style="italic" textLength="48.7" lengthAdjust="spacingAndGlyphs">OAS1/RPS11</text>
<line x1="541.5" y1="179.4" x2="541.5" y2="255.8" stroke="#231f20" stroke-width="0.9"/>
<line x1="541.05" y1="255.4" x2="617.6" y2="255.4" stroke="#231f20" stroke-width="0.9"/>
<line x1="541.5" y1="255.4" x2="541.5" y2="258.1" stroke="#231f20" stroke-width="0.9"/>
<text x="541.5" y="265.7" font-size="8.56" text-anchor="middle" textLength="4.45" lengthAdjust="spacingAndGlyphs">0</text>
<line x1="560.5" y1="255.4" x2="560.5" y2="258.1" stroke="#231f20" stroke-width="0.9"/>
<text x="560.5" y="265.7" font-size="8.56" text-anchor="middle" textLength="4.45" lengthAdjust="spacingAndGlyphs">2</text>
<line x1="579.6" y1="255.4" x2="579.6" y2="258.1" stroke="#231f20" stroke-width="0.9"/>
<text x="579.6" y="265.7" font-size="8.56" text-anchor="middle" textLength="4.45" lengthAdjust="spacingAndGlyphs">4</text>
<line x1="598.6" y1="255.4" x2="598.6" y2="258.1" stroke="#231f20" stroke-width="0.9"/>
<text x="598.6" y="265.7" font-size="8.56" text-anchor="middle" textLength="4.45" lengthAdjust="spacingAndGlyphs">6</text>
<line x1="617.6" y1="255.4" x2="617.6" y2="258.1" stroke="#231f20" stroke-width="0.9"/>
<text x="617.6" y="265.7" font-size="8.56" text-anchor="middle" textLength="4.45" lengthAdjust="spacingAndGlyphs">8</text>
<line x1="538.3" y1="188.9" x2="541.5" y2="188.9" stroke="#231f20" stroke-width="0.9"/>
<line x1="538.3" y1="203.3" x2="541.5" y2="203.3" stroke="#231f20" stroke-width="0.9"/>
<line x1="538.3" y1="217.8" x2="541.5" y2="217.8" stroke="#231f20" stroke-width="0.9"/>
<line x1="538.3" y1="232" x2="541.5" y2="232" stroke="#231f20" stroke-width="0.9"/>
<line x1="538.3" y1="246.1" x2="541.5" y2="246.1" stroke="#231f20" stroke-width="0.9"/>
<path d="M541.5 184.3 L551.96 184.3 L551.96 193.5 L541.5 193.5" stroke="#6f9bd6" stroke-width="1" fill="none"/>
<path d="M541.5 198.7 L603.32 198.7 L603.32 207.9 L541.5 207.9" stroke="#8a6bc9" stroke-width="1" fill="none"/>
<path d="M541.5 213.2 L551.01 213.2 L551.01 222.4 L541.5 222.4" stroke="#dd6ddd" stroke-width="1" fill="none"/>
<path d="M541.5 227.4 L569.08 227.4 L569.08 236.6 L541.5 236.6" stroke="#8dc35f" stroke-width="1" fill="none"/>
<path d="M541.5 241.5 L575.74 241.5 L575.74 250.7 L541.5 250.7" stroke="#2b789c" stroke-width="1" fill="none"/>
<path d="M551.49 184.9 q1.5 2 0 4 q1.5 2 0 4" stroke="#8fb2e0" stroke-width="0.9" fill="none"/>
<line x1="600.46" y1="203.3" x2="608.07" y2="203.3" stroke="#b39be2" stroke-width="1"/>
<line x1="600.46" y1="200.7" x2="600.46" y2="205.9" stroke="#b39be2" stroke-width="1"/>
<line x1="608.07" y1="200.7" x2="608.07" y2="205.9" stroke="#b39be2" stroke-width="1"/>
<circle cx="601.41" cy="203.3" r="1.4" fill="#b39be2"/>
<circle cx="606.64" cy="203.3" r="1.4" fill="#b39be2"/>
<path d="M550.53 213.8 q1.5 2 0 4 q1.5 2 0 4" stroke="#e07ae0" stroke-width="0.9" fill="none"/>
<path d="M569.55 228 q1.5 2 0 4 q1.5 2 0 4" stroke="#b5da8c" stroke-width="0.9" fill="none"/>
<line x1="573.83" y1="246.1" x2="578.59" y2="246.1" stroke="#2b789c" stroke-width="1"/>
<line x1="573.83" y1="243.5" x2="573.83" y2="248.7" stroke="#2b789c" stroke-width="1"/>
<line x1="578.59" y1="243.5" x2="578.59" y2="248.7" stroke="#2b789c" stroke-width="1"/>
<circle cx="576.69" cy="246.1" r="1.5" fill="#2f9cc2"/>
<text x="444" y="296.6" font-size="8.56" text-anchor="middle" font-style="italic" textLength="40.5" lengthAdjust="spacingAndGlyphs">IFI6/RPS11</text>
<line x1="403.4" y1="297.6" x2="403.4" y2="379.95" stroke="#231f20" stroke-width="0.9"/>
<line x1="402.95" y1="379.5" x2="453.3" y2="379.5" stroke="#231f20" stroke-width="0.9"/>
<line x1="462.9" y1="379.5" x2="484.3" y2="379.5" stroke="#231f20" stroke-width="0.9"/>
<line x1="453.1" y1="381.9" x2="457.5" y2="377.1" stroke="#231f20" stroke-width="0.9"/>
<line x1="460.4" y1="381.9" x2="464.8" y2="377.1" stroke="#231f20" stroke-width="0.9"/>
<line x1="400.3" y1="309.3" x2="403.4" y2="309.3" stroke="#231f20" stroke-width="0.9"/>
<text x="398.4" y="312.3" font-size="8.88" text-anchor="end" textLength="19.83" lengthAdjust="spacingAndGlyphs">Mock</text>
<line x1="400.3" y1="324" x2="403.4" y2="324" stroke="#231f20" stroke-width="0.9"/>
<text x="398.4" y="327" font-size="8.88" text-anchor="end" textLength="47.06" lengthAdjust="spacingAndGlyphs">Ifnb1(10 nM)</text>
<line x1="400.3" y1="339" x2="403.4" y2="339" stroke="#231f20" stroke-width="0.9"/>
<text x="398.4" y="342" font-size="8.88" text-anchor="end" textLength="24.9" lengthAdjust="spacingAndGlyphs">DMSO</text>
<line x1="400.3" y1="354.3" x2="403.4" y2="354.3" stroke="#231f20" stroke-width="0.9"/>
<text x="398.4" y="357.3" font-size="8.88" text-anchor="end" textLength="67.96" lengthAdjust="spacingAndGlyphs">Remdesivir (1 µM)</text>
<line x1="400.3" y1="369.6" x2="403.4" y2="369.6" stroke="#231f20" stroke-width="0.9"/>
<text x="398.4" y="372.6" font-size="8.88" text-anchor="end" textLength="46.3" lengthAdjust="spacingAndGlyphs">C10 (20 µM)</text>
<line x1="403.4" y1="379.5" x2="403.4" y2="381.3" stroke="#231f20" stroke-width="0.9"/>
<text x="406.2" y="386.9" font-size="9.1" text-anchor="end" transform="rotate(-45 406.2 386.9)" textLength="4.73" lengthAdjust="spacingAndGlyphs">0</text>
<line x1="416.4" y1="379.5" x2="416.4" y2="381.3" stroke="#231f20" stroke-width="0.9"/>
<text x="419.2" y="386.9" font-size="9.1" text-anchor="end" transform="rotate(-45 419.2 386.9)" textLength="9.45" lengthAdjust="spacingAndGlyphs">10</text>
<line x1="429.4" y1="379.5" x2="429.4" y2="381.3" stroke="#231f20" stroke-width="0.9"/>
<text x="432.2" y="386.9" font-size="9.1" text-anchor="end" transform="rotate(-45 432.2 386.9)" textLength="9.45" lengthAdjust="spacingAndGlyphs">20</text>
<line x1="442.4" y1="379.5" x2="442.4" y2="381.3" stroke="#231f20" stroke-width="0.9"/>
<text x="445.2" y="386.9" font-size="9.1" text-anchor="end" transform="rotate(-45 445.2 386.9)" textLength="9.45" lengthAdjust="spacingAndGlyphs">30</text>
<line x1="463.2" y1="379.5" x2="463.2" y2="381.3" stroke="#231f20" stroke-width="0.9"/>
<text x="466" y="386.9" font-size="9.1" text-anchor="end" transform="rotate(-45 466 386.9)" textLength="14.18" lengthAdjust="spacingAndGlyphs">100</text>
<line x1="473.8" y1="379.5" x2="473.8" y2="381.3" stroke="#231f20" stroke-width="0.9"/>
<text x="476.6" y="386.9" font-size="9.1" text-anchor="end" transform="rotate(-45 476.6 386.9)" textLength="14.18" lengthAdjust="spacingAndGlyphs">125</text>
<line x1="484.3" y1="379.5" x2="484.3" y2="381.3" stroke="#231f20" stroke-width="0.9"/>
<text x="487.1" y="386.9" font-size="9.1" text-anchor="end" transform="rotate(-45 487.1 386.9)" textLength="14.18" lengthAdjust="spacingAndGlyphs">150</text>
<circle cx="404.8" cy="305.9" r="1.75" fill="#8fb2e0"/>
<circle cx="404.8" cy="309.3" r="1.75" fill="#8fb2e0"/>
<circle cx="404.8" cy="312.7" r="1.75" fill="#8fb2e0"/>
<line x1="403.4" y1="319" x2="453.3" y2="319" stroke="#8a6bc9" stroke-width="1"/>
<line x1="403.4" y1="329" x2="453.3" y2="329" stroke="#8a6bc9" stroke-width="1"/>
<path d="M462.9 319 L476.9 319 L476.9 329 L462.9 329" stroke="#8a6bc9" stroke-width="1" fill="none"/>
<line x1="474.8" y1="324" x2="479" y2="324" stroke="#8a6bc9" stroke-width="1"/>
<line x1="474.8" y1="321.4" x2="474.8" y2="326.6" stroke="#8a6bc9" stroke-width="1"/>
<line x1="479" y1="321.4" x2="479" y2="326.6" stroke="#8a6bc9" stroke-width="1"/>
<circle cx="477.8" cy="321.5" r="1.2" fill="#b39be2"/>
<circle cx="477.8" cy="324" r="1.2" fill="#b39be2"/>
<circle cx="477.8" cy="326.5" r="1.2" fill="#b39be2"/>
<circle cx="404.8" cy="335.6" r="1.75" fill="#ee9fee"/>
<circle cx="404.8" cy="339" r="1.75" fill="#ee9fee"/>
<circle cx="404.8" cy="342.4" r="1.75" fill="#ee9fee"/>
<path d="M403.4 349.3 L431.3 349.3 L431.3 359.3 L403.4 359.3" stroke="#8dc35f" stroke-width="1" fill="none"/>
<circle cx="432.5" cy="354.3" r="1.5" fill="#b5da8c"/>
<path d="M403.4 364.6 L443.3 364.6 L443.3 374.6 L403.4 374.6" stroke="#2b789c" stroke-width="1" fill="none"/>
<line x1="440.5" y1="369.6" x2="446.2" y2="369.6" stroke="#2b789c" stroke-width="1"/>
<line x1="440.5" y1="367" x2="440.5" y2="372.2" stroke="#2b789c" stroke-width="1"/>
<line x1="446.2" y1="367" x2="446.2" y2="372.2" stroke="#2b789c" stroke-width="1"/>
<circle cx="445.5" cy="367.6" r="1.4" fill="#2f9cc2"/>
<circle cx="445.5" cy="371.6" r="1.4" fill="#2f9cc2"/>
<text x="543.9" y="296.2" font-size="8.56" text-anchor="middle" font-style="italic" textLength="54.2" lengthAdjust="spacingAndGlyphs">RSAD2/RPS11</text>
<line x1="501.2" y1="299" x2="501.2" y2="379.85" stroke="#231f20" stroke-width="0.9"/>
<line x1="500.75" y1="379.4" x2="551.9" y2="379.4" stroke="#231f20" stroke-width="0.9"/>
<line x1="563" y1="379.4" x2="582.4" y2="379.4" stroke="#231f20" stroke-width="0.9"/>
<line x1="551.4" y1="381.8" x2="555.8" y2="377" stroke="#231f20" stroke-width="0.9"/>
<line x1="558.3" y1="381.8" x2="562.7" y2="377" stroke="#231f20" stroke-width="0.9"/>
<line x1="498" y1="308.8" x2="501.2" y2="308.8" stroke="#231f20" stroke-width="0.9"/>
<line x1="498" y1="324.2" x2="501.2" y2="324.2" stroke="#231f20" stroke-width="0.9"/>
<line x1="498" y1="339.6" x2="501.2" y2="339.6" stroke="#231f20" stroke-width="0.9"/>
<line x1="498" y1="354.4" x2="501.2" y2="354.4" stroke="#231f20" stroke-width="0.9"/>
<line x1="498" y1="369.5" x2="501.2" y2="369.5" stroke="#231f20" stroke-width="0.9"/>
<line x1="501.2" y1="379.4" x2="501.2" y2="381.2" stroke="#231f20" stroke-width="0.9"/>
<text x="504" y="386.8" font-size="9.1" text-anchor="end" transform="rotate(-45 504 386.8)" textLength="4.73" lengthAdjust="spacingAndGlyphs">0</text>
<line x1="514.4" y1="379.4" x2="514.4" y2="381.2" stroke="#231f20" stroke-width="0.9"/>
<text x="517.2" y="386.8" font-size="9.1" text-anchor="end" transform="rotate(-45 517.2 386.8)" textLength="4.73" lengthAdjust="spacingAndGlyphs">2</text>
<line x1="527.6" y1="379.4" x2="527.6" y2="381.2" stroke="#231f20" stroke-width="0.9"/>
<text x="530.4" y="386.8" font-size="9.1" text-anchor="end" transform="rotate(-45 530.4 386.8)" textLength="4.73" lengthAdjust="spacingAndGlyphs">4</text>
<line x1="540.1" y1="379.4" x2="540.1" y2="381.2" stroke="#231f20" stroke-width="0.9"/>
<text x="542.9" y="386.8" font-size="9.1" text-anchor="end" transform="rotate(-45 542.9 386.8)" textLength="4.73" lengthAdjust="spacingAndGlyphs">6</text>
<line x1="552.4" y1="379.4" x2="552.4" y2="381.2" stroke="#231f20" stroke-width="0.9"/>
<text x="555.2" y="386.8" font-size="9.1" text-anchor="end" transform="rotate(-45 555.2 386.8)" textLength="4.73" lengthAdjust="spacingAndGlyphs">8</text>
<line x1="564.3" y1="379.4" x2="564.3" y2="381.2" stroke="#231f20" stroke-width="0.9"/>
<text x="567.1" y="386.8" font-size="9.1" text-anchor="end" transform="rotate(-45 567.1 386.8)" textLength="9.45" lengthAdjust="spacingAndGlyphs">30</text>
<line x1="573.4" y1="379.4" x2="573.4" y2="381.2" stroke="#231f20" stroke-width="0.9"/>
<text x="576.2" y="386.8" font-size="9.1" text-anchor="end" transform="rotate(-45 576.2 386.8)" textLength="9.45" lengthAdjust="spacingAndGlyphs">40</text>
<line x1="582.4" y1="379.4" x2="582.4" y2="381.2" stroke="#231f20" stroke-width="0.9"/>
<text x="585.2" y="386.8" font-size="9.1" text-anchor="end" transform="rotate(-45 585.2 386.8)" textLength="9.45" lengthAdjust="spacingAndGlyphs">50</text>
<path d="M501.2 303.8 L510.4 303.8 L510.4 313.8 L501.2 313.8" stroke="#6f9bd6" stroke-width="1" fill="none"/>
<line x1="505" y1="308.8" x2="513.5" y2="308.8" stroke="#6f9bd6" stroke-width="1"/>
<line x1="505" y1="306.2" x2="505" y2="311.4" stroke="#6f9bd6" stroke-width="1"/>
<line x1="513.5" y1="306.2" x2="513.5" y2="311.4" stroke="#6f9bd6" stroke-width="1"/>
<circle cx="505.5" cy="308.8" r="1.3" fill="#8fb2e0"/>
<circle cx="511" cy="309.8" r="1.3" fill="#8fb2e0"/>
<line x1="501.2" y1="319.2" x2="551.9" y2="319.2" stroke="#8a6bc9" stroke-width="1"/>
<line x1="501.2" y1="329.2" x2="551.9" y2="329.2" stroke="#8a6bc9" stroke-width="1"/>
<path d="M560.7 319.2 L572 319.2 L572 329.2 L560.7 329.2" stroke="#8a6bc9" stroke-width="1" fill="none"/>
<line x1="565.5" y1="324.2" x2="575.5" y2="324.2" stroke="#8a6bc9" stroke-width="1"/>
<line x1="565.5" y1="321.6" x2="565.5" y2="326.8" stroke="#8a6bc9" stroke-width="1"/>
<line x1="575.5" y1="321.6" x2="575.5" y2="326.8" stroke="#8a6bc9" stroke-width="1"/>
<circle cx="567.5" cy="324.2" r="1.4" fill="#b39be2"/>
<circle cx="573.5" cy="322.7" r="1.4" fill="#b39be2"/>
<circle cx="575.5" cy="325.7" r="1.4" fill="#b39be2"/>
<circle cx="502.6" cy="337.2" r="1.7" fill="#ee9fee"/>
<circle cx="503.8" cy="339.6" r="1.7" fill="#ee9fee"/>
<circle cx="502.6" cy="342" r="1.7" fill="#ee9fee"/>
<path d="M501.2 349.4 L512.3 349.4 L512.3 359.4 L501.2 359.4" stroke="#8dc35f" stroke-width="1" fill="none"/>
<line x1="506" y1="354.4" x2="517.5" y2="354.4" stroke="#8dc35f" stroke-width="1"/>
<line x1="506" y1="351.8" x2="506" y2="357" stroke="#8dc35f" stroke-width="1"/>
<path d="M515.2 351.64 L519.8 354.4 L515.2 357.16 Z" stroke="#b5da8c" stroke-width="0.3" fill="#b5da8c"/>
<path d="M501.2 364.5 L521.5 364.5 L521.5 374.5 L501.2 374.5" stroke="#2b789c" stroke-width="1" fill="none"/>
<line x1="518" y1="369.5" x2="528.5" y2="369.5" stroke="#2b789c" stroke-width="1"/>
<line x1="518" y1="366.9" x2="518" y2="372.1" stroke="#2b789c" stroke-width="1"/>
<path d="M526 366.74 L530.6 369.5 L526 372.26 Z" stroke="#2f9cc2" stroke-width="0.3" fill="#2f9cc2"/>
<text x="643.6" y="296.2" font-size="8.56" text-anchor="middle" font-style="italic" textLength="44.7" lengthAdjust="spacingAndGlyphs">IRF7/RPS11</text>
<line x1="598.5" y1="300.4" x2="598.5" y2="380.85" stroke="#231f20" stroke-width="0.9"/>
<line x1="598.05" y1="380.4" x2="648.3" y2="380.4" stroke="#231f20" stroke-width="0.9"/>
<line x1="660" y1="380.4" x2="679.5" y2="380.4" stroke="#231f20" stroke-width="0.9"/>
<line x1="648.5" y1="383.2" x2="652.9" y2="378.4" stroke="#231f20" stroke-width="0.9"/>
<line x1="655.4" y1="383.2" x2="659.8" y2="378.4" stroke="#231f20" stroke-width="0.9"/>
<line x1="595.3" y1="309.3" x2="598.5" y2="309.3" stroke="#231f20" stroke-width="0.9"/>
<line x1="595.3" y1="324.2" x2="598.5" y2="324.2" stroke="#231f20" stroke-width="0.9"/>
<line x1="595.3" y1="339.7" x2="598.5" y2="339.7" stroke="#231f20" stroke-width="0.9"/>
<line x1="595.3" y1="355" x2="598.5" y2="355" stroke="#231f20" stroke-width="0.9"/>
<line x1="595.3" y1="370.5" x2="598.5" y2="370.5" stroke="#231f20" stroke-width="0.9"/>
<line x1="598.6" y1="380.4" x2="598.6" y2="382.4" stroke="#231f20" stroke-width="0.9"/>
<text x="598.6" y="391.7" font-size="9.1" text-anchor="middle" textLength="4.73" lengthAdjust="spacingAndGlyphs">0</text>
<line x1="611.5" y1="380.4" x2="611.5" y2="382.4" stroke="#231f20" stroke-width="0.9"/>
<text x="611.5" y="391.7" font-size="9.1" text-anchor="middle" textLength="4.73" lengthAdjust="spacingAndGlyphs">1</text>
<line x1="624.4" y1="380.4" x2="624.4" y2="382.4" stroke="#231f20" stroke-width="0.9"/>
<text x="624.4" y="391.7" font-size="9.1" text-anchor="middle" textLength="4.73" lengthAdjust="spacingAndGlyphs">2</text>
<line x1="637.2" y1="380.4" x2="637.2" y2="382.4" stroke="#231f20" stroke-width="0.9"/>
<text x="637.2" y="391.7" font-size="9.1" text-anchor="middle" textLength="4.73" lengthAdjust="spacingAndGlyphs">3</text>
<line x1="650.3" y1="380.4" x2="650.3" y2="382.4" stroke="#231f20" stroke-width="0.9"/>
<text x="650.3" y="391.7" font-size="9.1" text-anchor="middle" textLength="4.73" lengthAdjust="spacingAndGlyphs">4</text>
<line x1="664.9" y1="380.4" x2="664.9" y2="382.4" stroke="#231f20" stroke-width="0.9"/>
<text x="664.9" y="391.7" font-size="9.1" text-anchor="middle" textLength="9.45" lengthAdjust="spacingAndGlyphs">12</text>
<line x1="679.5" y1="380.4" x2="679.5" y2="382.4" stroke="#231f20" stroke-width="0.9"/>
<text x="679.5" y="391.7" font-size="9.1" text-anchor="middle" textLength="9.45" lengthAdjust="spacingAndGlyphs">16</text>
<path d="M598.5 304.2 L611 304.2 L611 314.4 L598.5 314.4" stroke="#6f9bd6" stroke-width="1" fill="none"/>
<path d="M611.3 305.3 q1.5 2 0 4 q1.5 2 0 4" stroke="#8fb2e0" stroke-width="0.9" fill="none"/>
<line x1="598.5" y1="319.1" x2="650" y2="319.1" stroke="#8a6bc9" stroke-width="1"/>
<line x1="598.5" y1="329.3" x2="650" y2="329.3" stroke="#8a6bc9" stroke-width="1"/>
<path d="M657.1 319.1 L666.8 319.1 L666.8 329.3 L657.1 329.3" stroke="#8a6bc9" stroke-width="1" fill="none"/>
<line x1="659.5" y1="324.2" x2="677.5" y2="324.2" stroke="#8a6bc9" stroke-width="1"/>
<line x1="659.5" y1="321.6" x2="659.5" y2="326.8" stroke="#8a6bc9" stroke-width="1"/>
<path d="M674.7 321.44 L679.3 324.2 L674.7 326.96 Z" stroke="#b39be2" stroke-width="0.3" fill="#b39be2"/>
<path d="M659.4 322.28 L662.6 324.2 L659.4 326.12 Z" stroke="#b39be2" stroke-width="0.3" fill="#b39be2"/>
<path d="M598.5 334.6 L607.3 334.6 L607.3 344.8 L598.5 344.8" stroke="#dd6ddd" stroke-width="1" fill="none"/>
<path d="M607.2 335.7 q1.5 2 0 4 q1.5 2 0 4" stroke="#ee9fee" stroke-width="0.9" fill="none"/>
<path d="M598.5 349.9 L625.8 349.9 L625.8 360.1 L598.5 360.1" stroke="#8dc35f" stroke-width="1" fill="none"/>
<line x1="624.2" y1="355" x2="627" y2="355" stroke="#8dc35f" stroke-width="1"/>
<line x1="624.2" y1="352.4" x2="624.2" y2="357.6" stroke="#8dc35f" stroke-width="1"/>
<line x1="627" y1="352.4" x2="627" y2="357.6" stroke="#8dc35f" stroke-width="1"/>
<path d="M598.5 365.4 L641.7 365.4 L641.7 375.6 L598.5 375.6" stroke="#2b789c" stroke-width="1" fill="none"/>
<line x1="637.5" y1="370.5" x2="643.5" y2="370.5" stroke="#2b789c" stroke-width="1"/>
<line x1="637.5" y1="367.9" x2="637.5" y2="373.1" stroke="#2b789c" stroke-width="1"/>
<line x1="643.5" y1="367.9" x2="643.5" y2="373.1" stroke="#2b789c" stroke-width="1"/>
<path d="M637.7 368.34 L641.3 370.5 L637.7 372.66 Z" stroke="#2f9cc2" stroke-width="0.3" fill="#2f9cc2"/>
<circle cx="642.5" cy="368.5" r="1.3" fill="#2f9cc2"/>
<circle cx="642.5" cy="372.5" r="1.3" fill="#2f9cc2"/>
<text x="549" y="409.3" font-size="9.63" text-anchor="middle" textLength="111.4" lengthAdjust="spacingAndGlyphs">Relative mRNA expression</text>
</svg>
</body></html>
